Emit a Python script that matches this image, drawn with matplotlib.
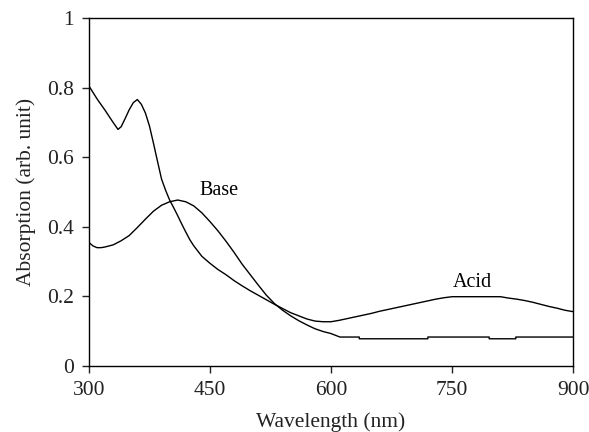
import matplotlib
matplotlib.use("Agg")
import matplotlib.pyplot as plt
from matplotlib.ticker import FuncFormatter

# acid spectrum
acid_nm = [300, 310, 320, 330, 336, 340, 345, 350, 355, 360, 365, 370, 375, 380,
           385, 390, 395, 400, 405, 410, 415, 420, 425, 430, 435, 440, 450, 460,
           470, 480, 490, 500, 510, 520, 530, 540, 550, 560, 570, 580, 590, 600,
           610, 620, 630, 640, 650, 660, 670, 680, 690, 700, 710, 720, 730, 740,
           750, 760, 770, 780, 790, 800, 810, 820, 830, 840, 850, 860, 870, 880,
           890, 900]
acid_abs = [0.805, 0.768, 0.735, 0.700, 0.680, 0.688, 0.712, 0.737, 0.757, 0.766,
            0.752, 0.727, 0.690, 0.640, 0.588, 0.537, 0.505, 0.477, 0.455, 0.432,
            0.408, 0.385, 0.363, 0.345, 0.330, 0.315, 0.295, 0.277, 0.262, 0.245,
            0.230, 0.216, 0.203, 0.190, 0.177, 0.165, 0.153, 0.144, 0.135, 0.129,
            0.127, 0.127, 0.131, 0.136, 0.141, 0.146, 0.151, 0.157, 0.162, 0.167,
            0.172, 0.177, 0.182, 0.187, 0.192, 0.196, 0.199, 0.199, 0.199, 0.199,
            0.199, 0.199, 0.199, 0.195, 0.192, 0.188, 0.183, 0.177, 0.171, 0.166,
            0.160, 0.156]

# base spectrum
base_nm = [300, 305, 310, 315, 320, 330, 340, 350, 360, 370, 380, 390, 400, 410,
           420, 430, 440, 450, 460, 470, 480, 490, 500, 510, 520, 530, 540, 550,
           560, 570, 580, 590, 600, 611, 635, 635, 720, 720, 796, 796, 829, 829, 900]
base_abs = [0.355, 0.345, 0.340, 0.340, 0.342, 0.348, 0.360, 0.375, 0.398, 0.422,
            0.445, 0.462, 0.472, 0.477, 0.472, 0.460, 0.440, 0.415, 0.388, 0.358,
            0.326, 0.292, 0.262, 0.232, 0.203, 0.179, 0.160, 0.144, 0.130, 0.118,
            0.107, 0.099, 0.093, 0.083, 0.083, 0.078, 0.078, 0.083, 0.083, 0.078,
            0.078, 0.083, 0.083]

x_ticks = [300, 450, 600, 750, 900]
y_ticks = [0, 0.2, 0.4, 0.6, 0.8, 1]

plt.rcParams['font.family'] = ['Liberation Serif', 'DejaVu Serif']

fig = plt.figure(figsize=(5.89, 4.32), dpi=100)
ax = fig.add_axes([0.151, 0.153, 0.822, 0.805])

ax.plot(acid_nm, acid_abs, color='black', lw=1.0)
ax.plot(base_nm, base_abs, color='black', lw=1.0)

ax.text(461, 0.505, "Base", fontsize=14.5, ha='center', va='center')
ax.text(775, 0.24, "Acid", fontsize=14.5, ha='center', va='center')

ax.set_xlim(300, 900)
ax.set_ylim(0, 1)
ax.set_xticks(x_ticks)
ax.set_yticks(y_ticks)
ax.yaxis.set_major_formatter(FuncFormatter(lambda v, p: "{:g}".format(v)))
ax.tick_params(direction='out', length=5, width=1.0, pad=6, labelsize=15.5,
               colors='#222222', top=False, right=False)
for s in ax.spines.values():
    s.set_linewidth(1.0)

ax.set_xlabel("Wavelength (nm)", fontsize=15.5, color='#222222', labelpad=9)
ax.set_ylabel("Absorption (arb. unit)", fontsize=15.5, color='#222222', labelpad=8)

fig.savefig("out.png", dpi=100)
